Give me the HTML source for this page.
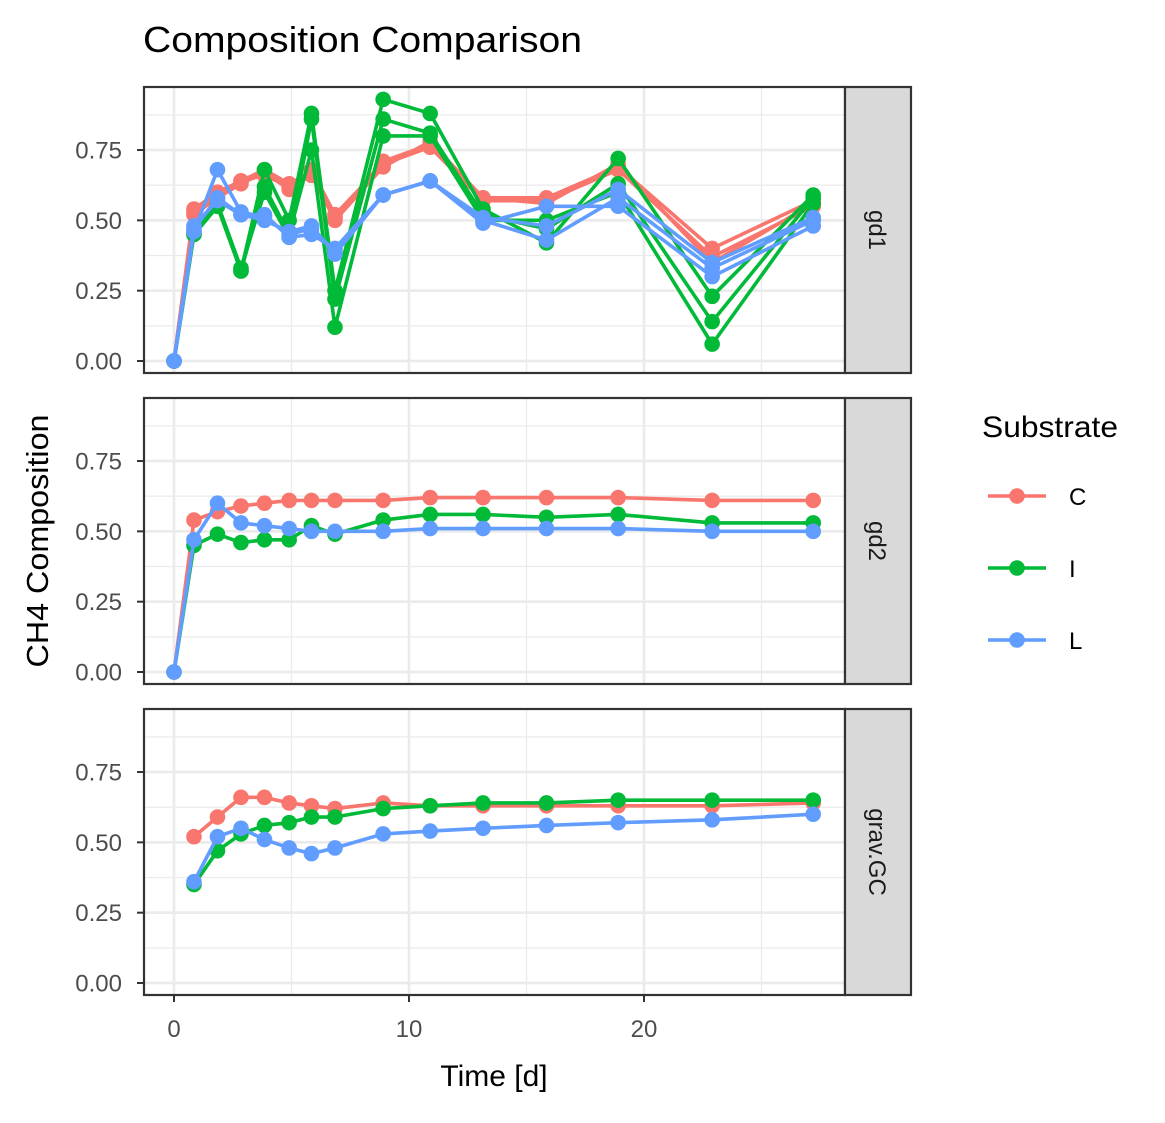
<!DOCTYPE html>
<html><head><meta charset="utf-8"><style>
body{margin:0;background:#fff;}
svg text{font-family:"Liberation Sans",Arial,sans-serif;}
</style></head><body>
<svg id="chart" width="1165" height="1118" xmlns="http://www.w3.org/2000/svg">
<text x="143" y="52" font-size="36" textLength="439" lengthAdjust="spacingAndGlyphs" fill="#000">Composition Comparison</text>
<text transform="translate(48,541) rotate(-90)" text-anchor="middle" font-size="31" textLength="253" lengthAdjust="spacingAndGlyphs">CH4 Composition</text>
<text x="494" y="1086" text-anchor="middle" font-size="30">Time [d]</text>
<g id="legend">
<text x="982" y="437" font-size="30" textLength="136" lengthAdjust="spacingAndGlyphs">Substrate</text>
</g>
</svg>
<script>
const substrates = ["C","I","L"];
const colors = ["#F8766D","#00BA38","#619CFF"];
const facets = ["gd1","gd2","grav.GC"];
const times = [0,0.85,1.85,2.85,3.85,4.9,5.85,6.85,8.9,10.9,13.15,15.85,18.9,22.9,27.2];
const timesGC = [0.85,1.85,2.85,3.85,4.9,5.85,6.85,8.9,10.9,13.15,15.85,18.9,22.9,27.2];
const xTicks = [0,10,20];
const yTicks = [0,0.25,0.5,0.75];
const yTickLabels = ["0.00","0.25","0.50","0.75"];
const gd1C = [
 [0,.54,.60,.64,.68,.63,.67,.51,.71,.77,.58,.58,.69,.40,.57],
 [0,.52,.58,.63,.67,.61,.68,.52,.70,.76,.57,.57,.68,.37,.55],
 [0,.53,.59,.64,.66,.62,.66,.50,.69,.78,.58,.56,.70,.35,.56]];
const gd1I = [
 [0,.45,.55,.32,.68,.50,.88,.25,.93,.88,.54,.42,.72,.23,.59],
 [0,.46,.56,.33,.60,.44,.86,.22,.86,.81,.52,.47,.63,.14,.58],
 [0,.45,.55,.32,.62,.45,.75,.12,.80,.80,.50,.50,.60,.06,.56]];
const gd1L = [
 [0,.46,.68,.53,.51,.45,.47,.39,.59,.64,.49,.55,.55,.30,.48],
 [0,.47,.58,.52,.52,.44,.45,.40,.59,.64,.50,.43,.58,.33,.50],
 [0,.48,.57,.52,.50,.46,.48,.38,.59,.64,.51,.48,.61,.35,.51]];
const gd2C = [0,.54,.57,.59,.60,.61,.61,.61,.61,.62,.62,.62,.62,.61,.61];
const gd2I = [0,.45,.49,.46,.47,.47,.52,.49,.54,.56,.56,.55,.56,.53,.53];
const gd2L = [0,.47,.60,.53,.52,.51,.50,.50,.50,.51,.51,.51,.51,.50,.50];
const gcC = [.52,.59,.66,.66,.64,.63,.62,.64,.63,.63,.63,.63,.63,.64];
const gcI = [.35,.47,.53,.56,.57,.59,.59,.62,.63,.64,.64,.65,.65,.65];
const gcL = [.36,.52,.55,.51,.48,.46,.48,.53,.54,.55,.56,.57,.58,.60];

const NS="http://www.w3.org/2000/svg";
const svg=document.getElementById("chart");
function mk(tag,attrs,parent){const e=document.createElementNS(NS,tag);for(const k in attrs)e.setAttribute(k,attrs[k]);(parent||svg).appendChild(e);return e;}
const PX0=144,PX1=845,STRIP1=911;
const panelTop=[87,398,709], PH=286;
const xs=t=>174+t*23.5;
function ys(p,v){return panelTop[p]+274-v*281.3;}

const facetData=[
 {t:times,series:[gd1C,gd1I,gd1L]},
 {t:times,series:[[gd2C],[gd2I],[gd2L]]},
 {t:timesGC,series:[[gcC],[gcI],[gcL]]}];

facets.forEach((f,p)=>{
 const g=mk("g",{});
 
 
 const top=panelTop[p];
 mk("rect",{x:PX0,y:top,width:PX1-PX0,height:PH,fill:"#fff"},g);
 [5,15,25].forEach(t=>mk("line",{x1:xs(t),x2:xs(t),y1:top,y2:top+PH,stroke:"#ebebeb","stroke-width":1.3},g));
 [0.125,0.375,0.625,0.875].forEach(v=>mk("line",{x1:PX0,x2:PX1,y1:ys(p,v),y2:ys(p,v),stroke:"#ebebeb","stroke-width":1.3},g));
 xTicks.forEach(t=>mk("line",{x1:xs(t),x2:xs(t),y1:top,y2:top+PH,stroke:"#ebebeb","stroke-width":2.7},g));
 yTicks.forEach((v,i)=>{
  mk("line",{x1:PX0,x2:PX1,y1:ys(p,v),y2:ys(p,v),stroke:"#ebebeb","stroke-width":2.7},g);
  mk("line",{x1:PX0-7,x2:PX0,y1:ys(p,v),y2:ys(p,v),stroke:"#333","stroke-width":2},g);
  const tx=mk("text",{x:PX0-22,y:ys(p,v)+8.5,"text-anchor":"end","font-size":24,fill:"#4d4d4d"},g);
  
  
  tx.textContent=yTickLabels[i];
 });
 const fd=facetData[p];
 fd.series.forEach((reps,si)=>{
  reps.forEach(vals=>{
   const pts=vals.map((v,i)=>xs(fd.t[i])+","+ys(p,v)).join(" ");
   const pl=mk("polyline",{points:pts,fill:"none",stroke:colors[si],"stroke-width":3.6,"stroke-linejoin":"round"},g);
   
   
   vals.forEach((v,i)=>{
    const c=mk("circle",{cx:xs(fd.t[i]),cy:ys(p,v),r:7.8,fill:colors[si]},g);
    
    
   });
  });
 });
 mk("rect",{x:PX0,y:top,width:PX1-PX0,height:PH,fill:"none",stroke:"#333","stroke-width":2.2},g);
 mk("rect",{x:PX1,y:top,width:STRIP1-PX1,height:PH,fill:"#d9d9d9",stroke:"#333","stroke-width":2.2},g);
 const st=mk("text",{transform:`translate(${PX1+24},${top+PH/2}) rotate(90)`,"text-anchor":"middle","font-size":24,fill:"#1a1a1a"},g);
 
 
 st.textContent=f;
});
xTicks.forEach(t=>{
 const b=panelTop[2]+PH;
 mk("line",{x1:xs(t),x2:xs(t),y1:b,y2:b+7,stroke:"#333","stroke-width":2});
 const tx=mk("text",{x:xs(t),y:b+42,"text-anchor":"middle","font-size":24,fill:"#4d4d4d"});
 
 
 tx.textContent=t;
});
const lg=document.getElementById("legend");
substrates.forEach((s,i)=>{
 const y=496+i*72;
 const e=mk("g",{},lg);
 
 
 mk("line",{x1:988,x2:1046,y1:y,y2:y,stroke:colors[i],"stroke-width":3.6},e);
 mk("circle",{cx:1017,cy:y,r:7.8,fill:colors[i]},e);
 const t=mk("text",{x:1069,y:y+9,"font-size":24,fill:"#000"},e);
 t.textContent=s;
});
</script>
</body></html>
